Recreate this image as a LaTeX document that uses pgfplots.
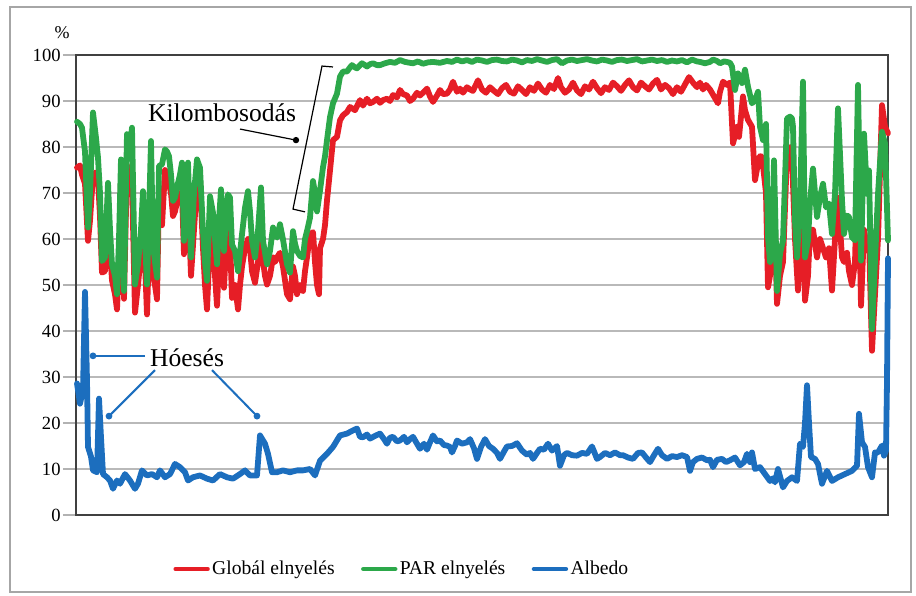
\documentclass[border=0pt]{standalone}
\usepackage{pgfplots}
\pgfplotsset{compat=1.18}
\usepackage{fontspec}
\setmainfont{Liberation Serif}
\definecolor{cred}{RGB}{230,30,38}
\definecolor{cgreen}{RGB}{44,168,74}
\definecolor{cblue}{RGB}{28,110,190}
\begin{document}
\begin{tikzpicture}
\useasboundingbox (0,0) rectangle (458pt,-297.5pt);
\draw[gray!70, line width=0.8pt] (5pt,-3.5pt) rectangle (455.5pt,-296pt);
\node[font=\fontsize{9}{10}\selectfont] at (31pt,-16.5pt) {\%};
\begin{axis}[
  at={(38pt,-257.5pt)}, anchor=south west,
  scale only axis, width=406pt, height=230pt,
  xmin=76, xmax=888, ymin=0, ymax=100,
  xtick=\empty,
  ytick={0,10,...,100},
  ytick pos=left,
  tick align=outside,
  major tick length=6.5pt,
  ymajorgrids,
  grid style={gray!55, line width=0.7pt},
  major tick style={gray!60, line width=0.7pt},
  axis line style={black!75, line width=1pt},
  /pgf/number format/assume math mode=true,
  yticklabel style={font=\fontsize{9.3}{11}\selectfont, inner sep=1pt},
  clip=false,
  legend columns=3,
  legend style={at={(0.4015,-0.1174)}, anchor=center, draw=none, fill=none,
    font=\fontsize{9.8}{11}\selectfont,
    /tikz/every even column/.append style={column sep=12pt},
    nodes={inner sep=1.2pt}},
  legend image code/.code={\draw[#1, line width=2.2pt] (0pt,0pt) -- (16pt,0pt);},
  every axis plot/.append style={line width=2.9pt, line join=round, line cap=round},
]
\addplot[cred] coordinates {
(77,75.5)(80,76)(82,74)(85,72)(88,59.6)(90,64)(93,74)(96,74.5)(98,73)(100,65)
(102,52.7)(105,53)(108,69)(110,58)(112,51)(115,48)(117,44.7)(119,55)(121,73)(124,47)
(127,76)(130,72)(132,73)(135,44)(138,50)(141,57)(143,65)(145,55)(147,43.6)(149,58)
(151,72)(153,52)(155,50)(157,46.9)(159,70)(162,63)(165,75)(167,74)(169,72)(171,70)
(173,65)(175,66)(177,68)(180,70)(182,70)(184,56.7)(186,62)(188,70)(191,52)(194,62)
(197,72)(200,73)(203,58)(205,50)(207,44.7)(210,60)(213,60)(215,52)(217,45.5)(219,55)
(221,63)(224,49.4)(226,58)(228,62)(230,60)(232,47.2)(235,50)(238,44.7)(240,50)(242,54)
(245,58)(248,60)(250,58)(252,53)(255,50.5)(258,55)(261,60)(263,55.2)(265,52)(267,50.1)
(270,52)(273,56)(275,55)(277,56)(280,57)(283,54)(287,48)(290,46.9)(293,54)(295,52)
(297,48)(300,50)(303,48.7)(305,53)(307,56)(310,61)(313,61.5)(315,55)(317,50)(319,48)
(320,58)(323,60)(325,63)(327,68.4)(330,74.9)(333,81.5)(337,82.2)(340,85.8)(343,86.9)(347,87.6)
(350,88.7)(355,88)(360,90.2)(363,89)(367,90.5)(370,89.5)(373,89.8)(377,90.5)(380,89.6)(383,90.2)
(387,90.5)(390,90)(393,91.3)(397,90.8)(400,92.4)(403,91.5)(407,91.2)(410,90)(413,90.5)(417,91.8)
(420,91.2)(424,92)(427,92.7)(430,91)(433,89.8)(437,91.2)(440,92.4)(443,91.5)(447,91.6)(450,92.5)
(453,94.2)(457,92)(460,92.7)(463,91.8)(467,93)(470,92.5)(473,92.2)(478,94.5)(482,92.5)(486,91.8)
(490,93)(494,92.2)(498,91.5)(502,92.8)(506,93.5)(510,92)(514,91.6)(518,93.2)(522,92.4)(526,91.5)
(530,93)(534,92.2)(538,93.8)(542,92.5)(546,91.8)(550,93.5)(554,92.6)(558,95)(561,93)(565,91.8)
(569,92.5)(573,94)(577,92.3)(581,91.5)(585,93.2)(589,92.5)(593,94.2)(597,92.8)(601,91.7)(605,93)
(609,92.4)(613,94)(617,93.2)(621,92.2)(625,93.5)(629,94.5)(633,93)(637,92.3)(641,94)(645,93.2)
(649,92.5)(653,93.8)(657,94.6)(661,92.5)(665,93.5)(669,92.8)(673,91.5)(677,93)(681,92)(685,93.6)
(689,95.2)(693,94)(697,93)(700,94)(703,92.5)(706,93.5)(710,92.5)(714,91)(718,89.5)(720,92)
(723,94.2)(727,93.5)(730,94)(733,80.8)(735,82.5)(737,84.4)(739,82.2)(743,91)(745,88)(748,85.9)
(752,84.4)(755,72.8)(758,76.4)(760,78)(762,77.9)(764,74)(766,70)(768,49.5)(770,52)(772,56)
(774,70)(777,45.9)(780,52)(783,55)(787,78.6)(790,80)(792,78)(795,60)(798,48.8)(800,60)
(803,66)(805,46.6)(808,52)(810,62)(813,62)(817,56)(820,60)(823,58)(826,56)(829,58)
(832,48.8)(835,60)(838,69)(842,56)(844,55)(847,57)(849,53)(852,50)(855,55)(858,80)
(861,45.5)(864,62)(867,58)(869,60)(872,35.7)(875,48)(878,60)(882,89.1)(885,84.4)(888,83)
};
\addplot[cgreen] coordinates {
(77,85.5)(80,85)(82,84.2)(85,79)(88,62.5)(90,70)(93,87.5)(96,82)(98,77.7)(100,70)
(102,55.2)(105,56)(108,72.2)(110,62)(112,54.5)(115,52)(117,48)(119,60)(121,77.3)(124,48.7)
(127,82.8)(130,80)(132,84.2)(135,50.1)(138,54.5)(141,62)(143,70.4)(145,60)(147,50.1)(149,65)
(151,81.3)(153,58.8)(155,55)(157,51.6)(159,75.9)(162,76.2)(165,79.5)(167,79)(169,78)(171,74)
(173,68.3)(175,69)(177,71.2)(180,74)(182,76.6)(184,59.6)(186,68)(188,76.6)(191,56)(194,70)
(197,77.3)(200,75.5)(203,61.7)(205,55)(207,50.9)(210,69.3)(213,65.7)(215,60)(217,54.5)(219,64)
(221,70.8)(224,57.4)(226,65)(228,69.7)(230,69)(232,58.8)(235,57.4)(238,53)(240,57)(242,61)
(245,66.8)(248,70.4)(250,66)(252,59.6)(255,56)(258,61.7)(261,71.2)(263,59.6)(265,57)(267,54.5)
(270,57.4)(273,62.5)(275,61)(277,60.3)(280,63.2)(283,59.9)(287,54.5)(290,52.7)(293,61.7)(295,59)
(297,57.4)(300,56.3)(303,56)(305,60)(307,61.7)(310,64.6)(313,72.6)(315,70)(317,66)(320,70.5)
(323,75.6)(325,78)(327,81.5)(330,86.5)(333,89.5)(337,91.6)(340,95.3)(343,96.4)(347,96.4)(350,97.3)
(352,97.8)(355,97.3)(357,97.1)(360,97.8)(362,98.2)(365,97.8)(367,97.5)(370,98)(373,98.2)(377,97.8)
(380,97.8)(385,98.2)(390,98.5)(395,98.3)(400,98.9)(405,98.5)(410,98.3)(413,98.2)(418,98.6)(423,98.1)
(428,98.4)(433,98.5)(440,98.3)(447,98.7)(452,98.5)(457,99)(462,98.6)(467,98.9)(472,98.5)(477,99)
(482,98.8)(487,98.5)(492,98.9)(497,99)(502,98.7)(507,98.6)(512,99)(517,98.8)(522,98.4)(527,98.9)
(532,98.7)(537,99.1)(542,98.8)(547,98.5)(552,98.9)(557,99.1)(562,98.2)(567,98.8)(572,99)(577,98.7)
(582,98.9)(587,99.1)(592,98.8)(597,98.6)(602,99)(607,98.8)(612,98.5)(617,98.9)(622,99)(627,98.7)
(632,98.9)(637,99.1)(642,98.6)(647,98.8)(652,99)(657,98.7)(662,98.9)(667,98.5)(672,98.8)(677,98.6)
(682,98.9)(687,98.4)(692,99)(697,98.6)(700,98.5)(705,98.2)(710,98.5)(713,99)(717,98.7)(720,98.2)
(724,98.6)(727,98.5)(730,98.3)(732,97.5)(735,92.4)(738,96)(742,93.9)(745,96.8)(748,93.1)(752,89.5)
(755,90.2)(758,92)(760,84.4)(763,81.5)(766,85)(768,60.4)(770,55)(772,58.2)(774,77.1)(777,48.7)
(780,56.8)(783,59.7)(787,86.2)(790,86.6)(792,86.2)(793,84.4)(795,64)(797,56)(800,67.7)(803,94.2)
(805,56)(808,59.7)(810,68)(813,75.3)(817,64.8)(820,69.1)(823,72)(826,66.9)(829,67.7)(832,61.1)
(835,69.9)(838,88.4)(842,68.4)(844,61.1)(847,65.1)(849,64.8)(852,60.4)(855,59.7)(858,93.5)(861,55.3)
(864,82.9)(867,69.8)(869,74.9)(872,40.4)(875,55.3)(878,69.8)(882,83.3)(885,80.8)(888,59.7)
};
\addplot[cblue] coordinates {
(77,28.6)(80,24.2)(83,27.1)(85,48.5)(87,29.3)(88,14.8)(91,12.7)(93,9.7)(97,9.3)(99,25.3)
(101,16.9)(103,8.9)(107,8.2)(110,7.5)(113,5.7)(117,7.5)(120,6.8)(125,8.9)(130,7.5)(135,5.7)
(138,6.8)(142,9.7)(147,8.6)(152,8.9)(157,8.2)(160,9.7)(165,8.2)(170,8.9)(175,11.1)(180,10.4)
(185,9.3)(188,7.5)(193,8.2)(200,8.6)(207,7.9)(213,7.5)(220,8.9)(227,8.2)(233,7.9)(240,8.9)
(245,9.7)(250,8.6)(257,8.6)(260,17.3)(265,15.5)(268,13.3)(272,9.3)(277,9.3)(283,9.7)(290,9.3)
(297,9.7)(303,9.7)(310,10)(315,8.6)(320,11.8)(327,13.3)(333,14.8)(340,17.3)(347,17.7)(353,18.4)
(357,18.8)(360,17)(363,16.9)(367,17.5)(370,16.6)(375,17.2)(380,17.7)(384,16.5)(387,15.5)(390,16.8)
(393,17)(397,16)(400,16.2)(404,17)(407,15.8)(410,16.5)(413,17)(417,15.5)(420,14.4)(424,15.5)
(427,14.2)(430,15.8)(433,17.3)(437,16)(440,16.2)(444,15.2)(447,15.1)(450,14.8)(452,13.6)(455,15)
(457,16.2)(462,15.5)(467,15.8)(470,16.5)(474,14.5)(477,12.2)(481,14.8)(485,16.5)(489,15)(493,14.4)
(497,13.5)(500,12.2)(504,13.8)(507,14.9)(512,15)(517,15.6)(522,14)(527,13.1)(530,13.5)(533,12.2)
(537,13.5)(540,14.4)(544,14.2)(548,15.5)(552,14)(557,15)(560,10.7)(564,13)(567,13.5)(572,13)
(577,12.9)(582,13.5)(587,13.3)(592,14.9)(597,12.2)(600,12.6)(605,13.5)(610,13)(615,13.6)(620,13)
(623,13)(628,12.5)(633,12.2)(638,13.5)(642,13.6)(646,12.5)(650,11.5)(654,13)(658,14.4)(662,13)
(667,12.2)(672,12.8)(677,12.6)(682,13)(687,12.6)(690,9.6)(693,11.5)(697,12.2)(702,12.5)(707,11.9)
(710,12)(713,10.4)(717,12)(722,12.2)(726,11.5)(730,11.9)(735,12.5)(740,10.8)(744,11.5)(747,13.3)
(750,11.5)(752,13.6)(755,10)(760,10.4)(765,8.9)(770,7.4)(773,8)(775,7.1)(778,10)(783,6)
(787,7.4)(792,8.2)(797,7.4)(800,15.5)(803,14.8)(805,20)(807,28.2)(809,20)(811,12.6)(815,12.2)
(818,11.1)(822,6.8)(827,9.6)(832,7.4)(838,8.2)(845,8.9)(852,9.6)(857,10.7)(859,22)(862,15.8)
(865,14.8)(868,10.4)(872,8.2)(875,13.6)(878,13.6)(882,15.1)(884,12.9)(886,14)(887,29)(888,55.8)
};
\legend{Globál elnyelés, PAR elnyelés, Albedo}
% annotations
\node[font=\fontsize{12.8}{14}\selectfont, inner sep=0pt] at (axis cs:222,87.4) {Kilombosodás};
\draw[black, line width=0.6pt] (axis cs:240,83.9) -- (axis cs:296,81.5);
\fill[black] (axis cs:296,81.5) circle (1.6pt);
\draw[black, line width=0.6pt] (axis cs:333,97.4) -- (axis cs:322,97.6) -- (axis cs:293,66.5) -- (axis cs:305,65.9);
\node[font=\fontsize{12.8}{14}\selectfont, inner sep=0pt] at (axis cs:187,34.3) {Hóesés};
\draw[cblue, line width=1pt] (axis cs:145,34.6) -- (axis cs:93,34.6);
\fill[cblue] (axis cs:93,34.6) circle (1.7pt);
\draw[cblue, line width=1pt] (axis cs:155,31.5) -- (axis cs:109,21.5);
\fill[cblue] (axis cs:109,21.5) circle (1.7pt);
\draw[cblue, line width=1pt] (axis cs:212,31.5) -- (axis cs:257,21.5);
\fill[cblue] (axis cs:257,21.5) circle (1.7pt);
\end{axis}
\end{tikzpicture}
\end{document}
